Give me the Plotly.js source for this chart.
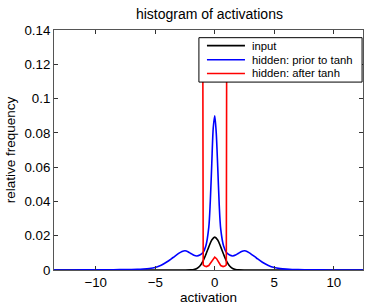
<!DOCTYPE html>
<html>
<head>
<meta charset="utf-8">
<script src="https://cdn.plot.ly/plotly-3.0.1.min.js"></script>
<style>html,body{margin:0;padding:0;background:#fff;}#chart{width:374px;height:307px;}</style>
</head>
<body>
<div id="chart"></div>
<script>
// ---- data ----
const inputX = [-13.5, -5, -3, -2.5, -2, -1.75, -1.5, -1.25, -1, -0.75, -0.5, -0.25, 0, 0.25, 0.5, 0.75, 1, 1.25, 1.5, 1.75, 2, 2.5, 3, 5, 12.5];
const inputY = [0, 0, 0, 0.00002, 0.0001, 0.0003, 0.0009, 0.0023, 0.0050, 0.0090, 0.0135, 0.0175, 0.0192, 0.0175, 0.0135, 0.0090, 0.0050, 0.0023, 0.0009, 0.0003, 0.0001, 0.00002, 0, 0, 0];

const priorX = [-13.5, -12, -10, -9, -8, -7, -6.5, -6, -5.5, -5, -4.5, -4, -3.5, -3, -2.75, -2.5, -2.25, -2, -1.75, -1.5, -1.25, -1, -0.75, -0.5, -0.375, -0.25, -0.125, 0, 0.125, 0.25, 0.375, 0.5, 0.75, 1, 1.25, 1.5, 1.75, 2, 2.25, 2.5, 2.75, 3, 3.5, 4, 4.5, 5, 5.5, 6, 6.5, 7, 8, 9, 10, 12, 12.5];
const priorY = [0, 0, 0.0001, 0.0001, 0.0002, 0.0003, 0.0004, 0.0006, 0.0009, 0.0015, 0.0028, 0.0048, 0.0073, 0.0098, 0.0108, 0.0112, 0.0107, 0.0096, 0.0086, 0.0082, 0.0087, 0.0100, 0.0140, 0.0250, 0.0400, 0.0620, 0.0830, 0.0900, 0.0800, 0.0600, 0.0380, 0.0240, 0.0138, 0.0100, 0.0087, 0.0082, 0.0087, 0.0098, 0.0108, 0.0112, 0.0107, 0.0096, 0.0070, 0.0045, 0.0026, 0.0014, 0.0008, 0.0005, 0.0003, 0.0002, 0.0001, 0.0001, 0, 0, 0];

const afterX = [-1, -0.97, -0.85, -0.7, -0.5, -0.3, -0.15, 0, 0.15, 0.3, 0.5, 0.7, 0.85, 0.97, 1];
const afterY = [0.12, 0.0030, 0.0023, 0.0020, 0.0026, 0.0045, 0.0066, 0.0075, 0.0066, 0.0045, 0.0026, 0.0020, 0.0023, 0.0030, 0.12];

const seriesNames = ['input', 'hidden: prior to tanh', 'hidden: after tanh'];
const seriesColors = ['#000000', '#0000ff', '#ff0000'];
const xTicks = [-10, -5, 0, 5, 10];
const yTicks = [0, 0.02, 0.04, 0.06, 0.08, 0.1, 0.12, 0.14];

const FONT = 'Liberation Sans, Arial, Helvetica, sans-serif';
const LW = 1.6;

const traces = [
  {x: inputX, y: inputY, name: seriesNames[0], mode: 'lines', line: {color: seriesColors[0], width: LW, shape: 'spline', smoothing: 0.8}},
  {x: priorX, y: priorY, name: seriesNames[1], mode: 'lines', line: {color: seriesColors[1], width: LW, shape: 'spline', smoothing: 0.8}},
  {x: afterX, y: afterY, name: seriesNames[2], mode: 'lines', line: {color: seriesColors[2], width: LW}}
];

// MATLAB-style legend box drawn in paper coordinates
const legBox = {x0: 0.469, x1: 0.997, y0: 0.783, y1: 0.968};
const legRows = [0.935, 0.876, 0.819];
const legLine = {x0: 0.495, x1: 0.618};
const legTextX = 0.634;

const shapes = [{type: 'rect', xref: 'paper', yref: 'paper', x0: legBox.x0, x1: legBox.x1, y0: legBox.y0, y1: legBox.y1,
  fillcolor: '#fff', line: {color: '#000', width: 1}, layer: 'above'}];
const annotations = [];
seriesNames.forEach((n, i) => {
  shapes.push({type: 'line', xref: 'paper', yref: 'paper', x0: legLine.x0, x1: legLine.x1, y0: legRows[i], y1: legRows[i],
    line: {color: seriesColors[i], width: LW}, layer: 'above'});
  annotations.push({xref: 'paper', yref: 'paper', x: legTextX, y: legRows[i], xanchor: 'left', yanchor: 'middle',
    text: n, showarrow: false, font: {family: FONT, size: 11.3, color: '#000'}});
});

const axisCommon = {
  showgrid: false, zeroline: false, showline: true, mirror: 'ticks',
  linecolor: '#555', linewidth: 1, ticks: 'inside', ticklen: 4, tickcolor: '#333',
  tickfont: {family: FONT, size: 13.3, color: '#000'}
};

const layout = {
  width: 374, height: 307,
  margin: {l: 54, r: 11, t: 30, b: 37},
  paper_bgcolor: '#fff', plot_bgcolor: '#fff',
  font: {family: FONT, color: '#000'},
  title: {text: 'histogram of activations', font: {size: 14, color: '#000'}, xref: 'paper', x: 0.503, xanchor: 'center', y: 0.953, yanchor: 'middle'},
  xaxis: Object.assign({}, axisCommon, {range: [-13.5, 12.45], tickvals: xTicks, title: {text: 'activation', font: {size: 13.5}, standoff: 3}}),
  yaxis: Object.assign({}, axisCommon, {range: [0, 0.14], tickvals: yTicks, title: {text: 'relative frequency', font: {size: 13.5}, standoff: 5}}),
  showlegend: false,
  shapes: shapes,
  annotations: annotations
};

Plotly.newPlot('chart', traces, layout, {displayModeBar: false, staticPlot: true});
</script>
</body>
</html>
